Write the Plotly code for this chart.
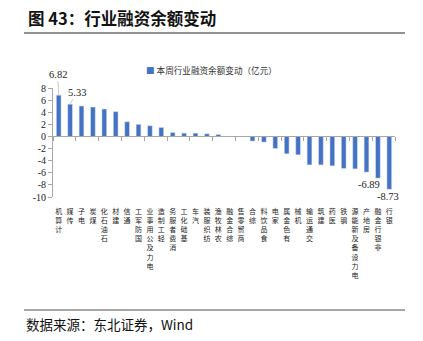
import plotly.graph_objects as go

categories = ["计算机", "传媒", "电子", "煤炭", "石油石化", "建材", "通信", "国防军工",
              "电力及公用事业", "轻工制造", "消费者服务", "基础化工", "汽车", "纺织服装",
              "农林牧渔", "综合金融", "商贸零售", "综合", "食品饮料", "家电", "有色金属",
              "机械", "交通运输", "建筑", "医药", "钢铁", "电力设备及新能源", "房地产",
              "非银行金融", "银行"]
values = [6.82, 5.33, 5.03, 4.86, 4.53, 4.10, 2.43, 2.00, 1.77, 1.49, 0.66, 0.55,
          0.55, 0.44, 0.33, 0.05, 0.03, -0.77, -0.94, -1.99, -2.87, -3.04, -4.70,
          -4.70, -4.86, -5.30, -5.36, -5.90, -6.89, -8.73]
series_name = "本周行业融资余额变动（亿元）"
y_ticks = [-10, -8, -6, -4, -2, 0, 2, 4, 6, 8]

W, H = 423, 341
ML, MR, MT, MB = 53, 28, 88, 144
PW, PH = W - ML - MR, H - MT - MB
YMIN, YMAX = -10, 8


def px_x(px):
    return (px - ML) / PW


def px_y(py):
    return (H - MB - py) / PH


BLUE = "#4472C4"
GRAY = "#A6A6A6"
CJK = "Noto Sans CJK SC"
SERIF = "Liberation Serif"

# labels read bottom-to-top with upright characters, last character next to the axis
tick_text = ["<br>".join(reversed(c)) for c in categories]

fig = go.Figure()
fig.add_trace(go.Bar(x=categories, y=values, marker_color=BLUE, name=series_name,
                     showlegend=False, hoverinfo="x+y"))
# invisible trace to carry the zero-line category axis
fig.add_trace(go.Scatter(x=categories, y=[0] * len(categories), xaxis="x2",
                         mode="markers", marker=dict(opacity=0), showlegend=False,
                         hoverinfo="skip"))

zero_pos = (0 - YMIN) / (YMAX - YMIN)

fig.update_layout(
    width=W, height=H,
    margin=dict(l=ML, r=MR, t=MT, b=MB),
    paper_bgcolor="white", plot_bgcolor="white",
    bargap=0.58,
    showlegend=False,
    xaxis=dict(
        range=[-0.5, len(categories) - 0.5],
        tickmode="array", tickvals=categories, ticktext=tick_text,
        tickangle=0,
        tickfont=dict(family=CJK, size=7, color="#222"),
        showline=False, ticks="", showgrid=False, zeroline=False,
        ticklabelstandoff=9,
    ),
    xaxis2=dict(
        overlaying="x", anchor="free", position=zero_pos, side="bottom",
        range=[-0.5, len(categories) - 0.5],
        showline=True, linecolor=GRAY, linewidth=1,
        ticks="outside", tickson="boundaries", ticklen=4, tickcolor=GRAY,
        showticklabels=False, showgrid=False, zeroline=False,
    ),
    yaxis=dict(
        range=[YMIN, YMAX], tickvals=y_ticks,
        ticktext=[str(v) for v in y_ticks],
        tickfont=dict(family=SERIF, size=10, color="#222"),
        showline=True, linecolor=GRAY, linewidth=1,
        ticks="outside", ticklen=4, tickcolor=GRAY,
        showgrid=False, zeroline=False,
    ),
)

ann = []
# chart title
ann.append(dict(xref="paper", yref="paper", x=px_x(26), y=px_y(18),
                xanchor="left", yanchor="middle", showarrow=False,
                text="<b>图 43：行业融资余额变动</b>",
                font=dict(family=CJK, size=16.5, color="#111")))
# source
ann.append(dict(xref="paper", yref="paper", x=px_x(24), y=px_y(324),
                xanchor="left", yanchor="middle", showarrow=False,
                text="数据来源：东北证券，Wind",
                font=dict(family=CJK, size=13.5, color="#111")))
# legend
ann.append(dict(xref="paper", yref="paper", x=px_x(144), y=px_y(70),
                xanchor="left", yanchor="middle", showarrow=False,
                text="<span style='color:%s'>■</span> %s" % (BLUE, series_name),
                font=dict(family=CJK, size=8.6, color="#333")))

# data labels
lab_font = dict(family=SERIF, size=10.5, color="#222")
ann.append(dict(x=categories[0], y=values[0], text=f"{values[0]:.2f}",
                showarrow=True, arrowhead=0, arrowwidth=0.8, arrowcolor="#BFBFBF",
                ax=-1, ay=-21, font=lab_font))
ann.append(dict(x=categories[1], y=values[1], text=f"{values[1]:.2f}",
                showarrow=True, arrowhead=0, arrowwidth=0.8, arrowcolor="#BFBFBF",
                ax=7, ay=-12, font=lab_font))
ann.append(dict(x=categories[-2], y=values[-2], text=f"{values[-2]:.2f}",
                showarrow=False, xshift=-9, yshift=-6.5, font=lab_font))
ann.append(dict(x=categories[-1], y=values[-1], text=f"{values[-1]:.2f}",
                showarrow=False, xshift=-1, yshift=-7.5, font=lab_font))

fig.update_layout(annotations=ann)

fig.update_layout(shapes=[
    dict(type="line", xref="paper", yref="paper", x0=px_x(24), x1=px_x(405),
         y0=px_y(33), y1=px_y(33), line=dict(color="#222", width=1)),
    dict(type="line", xref="paper", yref="paper", x0=px_x(24), x1=px_x(405),
         y0=px_y(310), y1=px_y(310), line=dict(color="#888", width=1.5)),
])

fig.write_html("out.html")
